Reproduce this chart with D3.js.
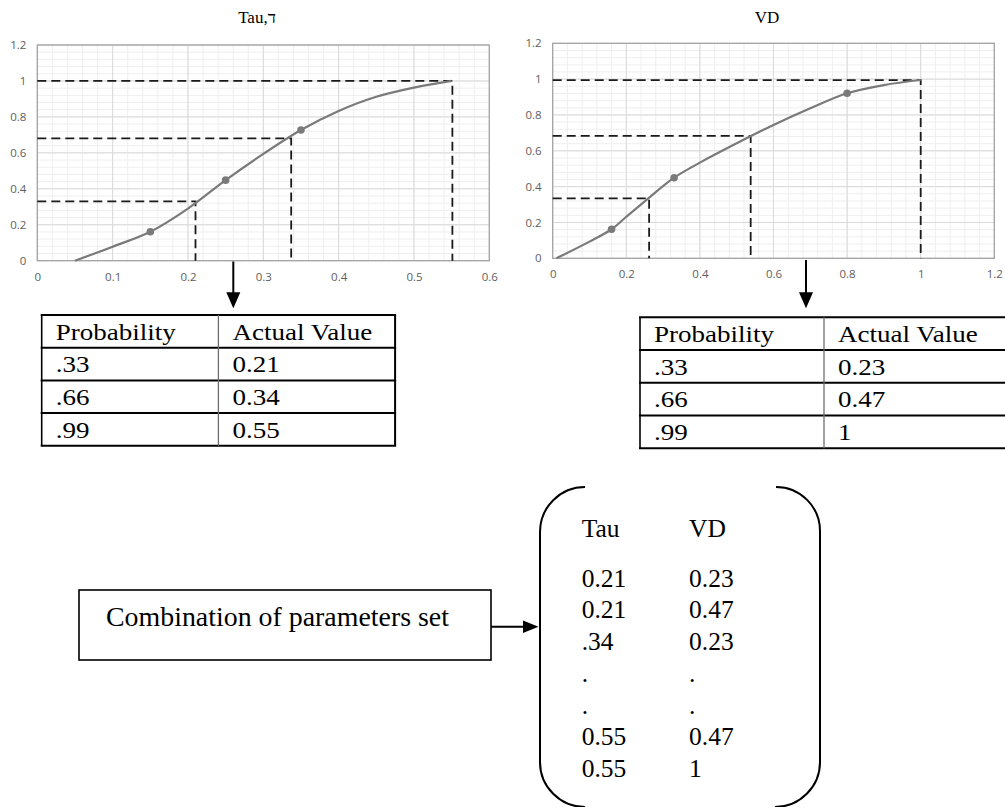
<!DOCTYPE html>
<html>
<head>
<meta charset="utf-8">
<script src="https://cdn.jsdelivr.net/npm/d3@7"></script>
<style>
  html, body { margin: 0; padding: 0; background: #fff; }
  svg { display: block; }
  .tick text { font-family: "Open Sans", sans-serif; font-size: 11.5px; fill: #5e5e5e; }
  .serif { font-family: "Liberation Serif", "Times New Roman", serif; fill: #000; }
</style>
</head>
<body>
<svg id="fig" width="1005" height="807"></svg>
<script>
// ---- data ----
// Tau curve (probability vs value)
var tauX = [0.05, 0.10, 0.15, 0.20, 0.25, 0.30, 0.35, 0.40, 0.45, 0.50, 0.55];
var tauP = [0, 0.078, 0.161, 0.29, 0.448, 0.594, 0.727, 0.833, 0.912, 0.963, 1.0];
var tauMarkX = [0.15, 0.25, 0.35];
var tauMarkP = [0.161, 0.448, 0.727];
var tauGuideX = [0.21, 0.337, 0.551];
var tauGuideP = [0.33, 0.68, 1.0];

// VD curve
var vdX = [0.01, 0.10, 0.16, 0.20, 0.26, 0.33, 0.40, 0.50, 0.60, 0.70, 0.80, 0.90, 1.0];
var vdP = [0, 0.093, 0.162, 0.232, 0.335, 0.45, 0.534, 0.642, 0.744, 0.837, 0.921, 0.967, 0.995];
var vdMarkX = [0.16, 0.33, 0.80];
var vdMarkP = [0.162, 0.45, 0.921];
var vdGuideX = [0.262, 0.538, 1.0];
var vdGuideP = [0.335, 0.683, 0.995];

// tick values
var tauTicks = [0, 0.1, 0.2, 0.3, 0.4, 0.5, 0.6];
var vdTicks = [0, 0.2, 0.4, 0.6, 0.8, 1, 1.2];
var pTicks = [0, 0.2, 0.4, 0.6, 0.8, 1, 1.2];

// tables
var tableHead = ["Probability", "Actual Value"];
var probLabels = [".33", ".66", ".99"];
var tauActual = ["0.21", "0.34", "0.55"];
var vdActual = ["0.23", "0.47", "1"];

// combinations
var comboHead = ["Tau", "VD"];
var comboTau = ["0.21", "0.21", ".34", ".", ".", "0.55", "0.55"];
var comboVD = ["0.23", "0.47", "0.23", ".", ".", "0.47", "1"];

var svg = d3.select("#fig");

// ---- the two CDF charts ----
function drawChart(opt) {
	var x = d3.scaleLinear().domain(opt.xDomain).range([opt.left, opt.right]);
	var y = d3.scaleLinear().domain([0, 1.2]).range([opt.bottom, opt.top]);
	var g = svg.append("g");

	// minor grid
	var xMinor = d3.range(opt.xDomain[0], opt.xDomain[1] + 1e-9, opt.xStep / 5);
	var yMinor = d3.range(0, 1.2 + 1e-9, 0.04);
	g.selectAll(".xminor").data(xMinor).enter().append("line")
		.attr("x1", x).attr("x2", x)
		.attr("y1", opt.top).attr("y2", opt.bottom)
		.attr("stroke", "#efefef").attr("stroke-width", 1);
	g.selectAll(".yminor").data(yMinor).enter().append("line")
		.attr("x1", opt.left).attr("x2", opt.right)
		.attr("y1", y).attr("y2", y)
		.attr("stroke", "#efefef").attr("stroke-width", 1);

	// major grid
	g.selectAll(".xmajor").data(opt.xTicks).enter().append("line")
		.attr("x1", x).attr("x2", x)
		.attr("y1", opt.top).attr("y2", opt.bottom)
		.attr("stroke", "#d9d9d9").attr("stroke-width", 1);
	g.selectAll(".ymajor").data(pTicks).enter().append("line")
		.attr("x1", opt.left).attr("x2", opt.right)
		.attr("y1", y).attr("y2", y)
		.attr("stroke", "#d9d9d9").attr("stroke-width", 1);

	// plot frame
	g.append("rect")
		.attr("x", opt.left).attr("y", opt.top)
		.attr("width", opt.right - opt.left).attr("height", opt.bottom - opt.top)
		.attr("fill", "none").attr("stroke", "#a0a0a0").attr("stroke-width", 1.2);

	// axes (labels only)
	g.append("g")
		.attr("transform", "translate(0," + opt.bottom + ")")
		.call(d3.axisBottom(x).tickValues(opt.xTicks).tickSize(0).tickPadding(12).tickFormat(d3.format("~g")))
		.call(function(a) { a.select(".domain").remove(); });
	g.append("g")
		.attr("transform", "translate(" + opt.left + ",0)")
		.call(d3.axisLeft(y).tickValues(pTicks).tickSize(0).tickPadding(11).tickFormat(d3.format("~g")))
		.call(function(a) { a.select(".domain").remove(); });

	// dashed guide lines
	opt.guideX.forEach(function(gx, i) {
		var gp = opt.guideP[i];
		g.append("path")
			.attr("d", "M" + x(opt.xDomain[0]) + "," + y(gp) + "H" + x(gx) + "V" + y(0))
			.attr("fill", "none").attr("stroke", "#1a1a1a")
			.attr("stroke-width", 1.8).attr("stroke-dasharray", "9,5");
	});

	// curve
	var pts = opt.xs.map(function(v, i) { return [v, opt.ps[i]]; });
	g.append("path")
		.datum(pts)
		.attr("d", d3.line().x(function(d) { return x(d[0]); }).y(function(d) { return y(d[1]); })
			.curve(d3.curveCatmullRom))
		.attr("fill", "none").attr("stroke", "#7a7a7a").attr("stroke-width", 2.2);

	g.selectAll(".mark").data(opt.markX).enter().append("circle")
		.attr("cx", function(d) { return x(d); })
		.attr("cy", function(d, i) { return y(opt.markP[i]); })
		.attr("r", 3.8).attr("fill", "#7a7a7a");

	// title
	svg.append("text").attr("class", "serif")
		.attr("x", opt.titleX).attr("y", 23)
		.attr("text-anchor", "middle").attr("font-size", 17)
		.text(opt.title);
}

drawChart({
	title: "Tau,ד", titleX: 257,
	left: 37.3, right: 489.3, top: 45, bottom: 260.7,
	xDomain: [0, 0.6], xStep: 0.1, xTicks: tauTicks,
	xs: tauX, ps: tauP, markX: tauMarkX, markP: tauMarkP,
	guideX: tauGuideX, guideP: tauGuideP
});

drawChart({
	title: "VD", titleX: 767,
	left: 552.7, right: 994.3, top: 43.3, bottom: 258.3,
	xDomain: [0, 1.2], xStep: 0.2, xTicks: vdTicks,
	xs: vdX, ps: vdP, markX: vdMarkX, markP: vdMarkP,
	guideX: vdGuideX, guideP: vdGuideP
});

// ---- down arrows ----
function downArrow(cx, y0, y1) {
	svg.append("line").attr("x1", cx).attr("x2", cx).attr("y1", y0).attr("y2", y1 - 15)
		.attr("stroke", "#000").attr("stroke-width", 2);
	svg.append("path")
		.attr("d", "M" + (cx - 7) + "," + (y1 - 16) + "L" + (cx + 7) + "," + (y1 - 16) + "L" + cx + "," + y1 + "Z")
		.attr("fill", "#000");
}
downArrow(233.3, 261.5, 308.3);
downArrow(806, 260, 308.3);

// ---- probability tables ----
function drawTable(tx, ty, colW, rowH, values) {
	var g = svg.append("g");
	var rows = [tableHead].concat(probLabels.map(function(p, i) { return [p, values[i]]; }));
	var w = colW * 2, h = rowH * rows.length;

	// horizontal rules
	d3.range(rows.length + 1).forEach(function(i) {
		g.append("line")
			.attr("x1", tx - 1).attr("x2", tx + w + 1)
			.attr("y1", ty + i * rowH).attr("y2", ty + i * rowH)
			.attr("stroke", "#000").attr("stroke-width", 2);
	});
	g.append("line").attr("x1", tx).attr("x2", tx).attr("y1", ty).attr("y2", ty + h)
		.attr("stroke", "#000").attr("stroke-width", 1.6);
	g.append("line").attr("x1", tx + w).attr("x2", tx + w).attr("y1", ty).attr("y2", ty + h)
		.attr("stroke", "#000").attr("stroke-width", 2);
	g.append("line").attr("x1", tx + colW).attr("x2", tx + colW).attr("y1", ty).attr("y2", ty + h)
		.attr("stroke", "#6e6e6e").attr("stroke-width", 1.3);

	rows.forEach(function(r, i) {
		r.forEach(function(txt, j) {
			g.append("text").attr("class", "serif")
				.attr("font-size", 23.5)
				.attr("transform", "translate(" + (tx + 14 + j * colW) + "," + (ty + i * rowH + 24.5) + ") scale(1.15,1)")
				.text(txt);
		});
	});
}
drawTable(41.7, 315, 176.7, 32.7, tauActual);
drawTable(640, 317.3, 184, 32.75, vdActual);

// ---- combination box and bracket ----
svg.append("rect")
	.attr("x", 79).attr("y", 590).attr("width", 412).attr("height", 70)
	.attr("fill", "none").attr("stroke", "#000").attr("stroke-width", 1.6);
svg.append("text").attr("class", "serif")
	.attr("x", 106).attr("y", 626).attr("font-size", 27)
	.attr("textLength", 343).attr("lengthAdjust", "spacingAndGlyphs")
	.text("Combination of parameters set");

svg.append("line").attr("x1", 491).attr("x2", 524).attr("y1", 626.7).attr("y2", 626.7)
	.attr("stroke", "#000").attr("stroke-width", 2);
svg.append("path").attr("d", "M523,620.5L538.5,626.7L523,633Z").attr("fill", "#000");

svg.append("path")
	.attr("d", "M585,487A45,45 0 0 0 540,532V762A45,45 0 0 0 585,807")
	.attr("fill", "none").attr("stroke", "#000").attr("stroke-width", 2);
svg.append("path")
	.attr("d", "M776,487A44,44 0 0 1 820,531V762A45,45 0 0 1 775,807")
	.attr("fill", "none").attr("stroke", "#000").attr("stroke-width", 2);

var combo = svg.append("g").attr("class", "serif").attr("font-size", 25.5);
combo.selectAll(".hd").data(comboHead).enter().append("text")
	.attr("x", function(d, i) { return i ? 689 : 581.7; })
	.attr("y", 536.7)
	.text(function(d) { return d; });
combo.selectAll(".ct").data(comboTau).enter().append("text")
	.attr("x", 581.7)
	.attr("y", function(d, i) { return 586.7 + i * 31.7; })
	.text(function(d) { return d; });
combo.selectAll(".cv").data(comboVD).enter().append("text")
	.attr("x", 689)
	.attr("y", function(d, i) { return 586.7 + i * 31.7; })
	.text(function(d) { return d; });
</script>
</body>
</html>
